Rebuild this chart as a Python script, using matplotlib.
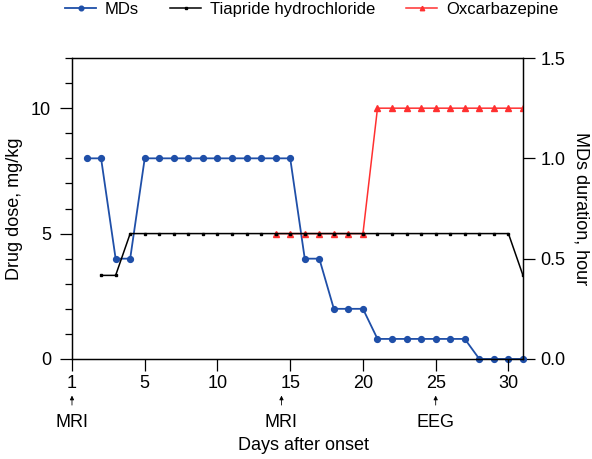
import matplotlib.pyplot as plt
import numpy as np
from matplotlib.ticker import MultipleLocator

plt.rcParams['font.family'] = ['Liberation Sans', 'DejaVu Sans']

# data (x = plot position, tick "1" sits at position 0)
md_days = list(range(1, 32))
md_hours = [1.0, 1.0, 0.5, 0.5] + [1.0] * 11 + [0.5, 0.5] + [0.25] * 3 + [0.1] * 7 + [0.0] * 4

tia_days = list(range(2, 32))
tia_dose = [10 / 3, 10 / 3] + [5] * 27 + [10 / 3]

oxc_days = list(range(14, 32))
oxc_dose = [5] * 7 + [10] * 11

xtick_pos = [0, 5, 10, 15, 20, 25, 30]
xtick_lab = ['1', '5', '10', '15', '20', '25', '30']

events = ['MRI', 'MRI', 'EEG']
event_pos = [0, 14.4, 25]

blue = '#1f4fa8'
red = '#ff3030'

fig = plt.figure(figsize=(5.92, 4.59), dpi=100)
ax = fig.add_axes([0.1216, 0.2179, 0.7618, 0.6557])
ax2 = ax.twinx()

l2, = ax.plot(oxc_days, oxc_dose, color=red, marker='^', markersize=4, linewidth=1.1, zorder=2, label='Oxcarbazepine')
l1, = ax.plot(tia_days, tia_dose, color='black', marker='s', markersize=2, linewidth=1.1, zorder=3, label='Tiapride hydrochloride')
l0, = ax2.plot(md_days, md_hours, color=blue, marker='o', markersize=4.2, linewidth=1.3, label='MDs', clip_on=False)

ax.set_zorder(ax2.get_zorder() + 1)
ax.patch.set_visible(False)

ax.set_xlim(0, 31)
ax.set_ylim(0, 12)
ax2.set_ylim(0, 1.5)
ax.set_xticks(xtick_pos)
ax.set_xticklabels(xtick_lab)
ax.set_yticks([0, 5, 10])
ax.yaxis.set_minor_locator(MultipleLocator(1))
ax2.set_yticks([0, 0.5, 1.0, 1.5])
ax2.set_yticklabels(['0.0', '0.5', '1.0', '1.5'])

for a in (ax, ax2):
    a.tick_params(direction='out', length=8.5, width=0.9, labelsize=13, pad=4)
    a.tick_params(which='minor', direction='out', length=5, width=0.9)
    for s in a.spines.values():
        s.set_linewidth(0.9)
ax.tick_params(axis='y', pad=6.5)
ax.tick_params(axis='x', pad=3)

ax.set_ylabel('Drug dose, mg/kg', fontsize=13, labelpad=6)
ax2.set_ylabel('MDs duration, hour', fontsize=13, rotation=270, labelpad=17)

for name, xp in zip(events, event_pos):
    ax.annotate('', xy=(xp, -1.35), xytext=(xp, -1.95), xycoords='data',
                arrowprops=dict(arrowstyle='-|>', color='black', lw=0.6, mutation_scale=6),
                annotation_clip=False)
    ax.text(xp, -2.55, name, ha='center', va='center', fontsize=13, clip_on=False)

ax.text(15.9, -3.43, 'Days after onset', ha='center', va='center', fontsize=13, clip_on=False)

fig.legend(handles=[l0, l1, l2], loc='center', bbox_to_anchor=(0.526, 0.979), ncol=3,
           frameon=False, fontsize=12, handlelength=1.9, columnspacing=1.85, handletextpad=0.5,
           markerscale=0.8)

fig.savefig('out.png', dpi=100)
